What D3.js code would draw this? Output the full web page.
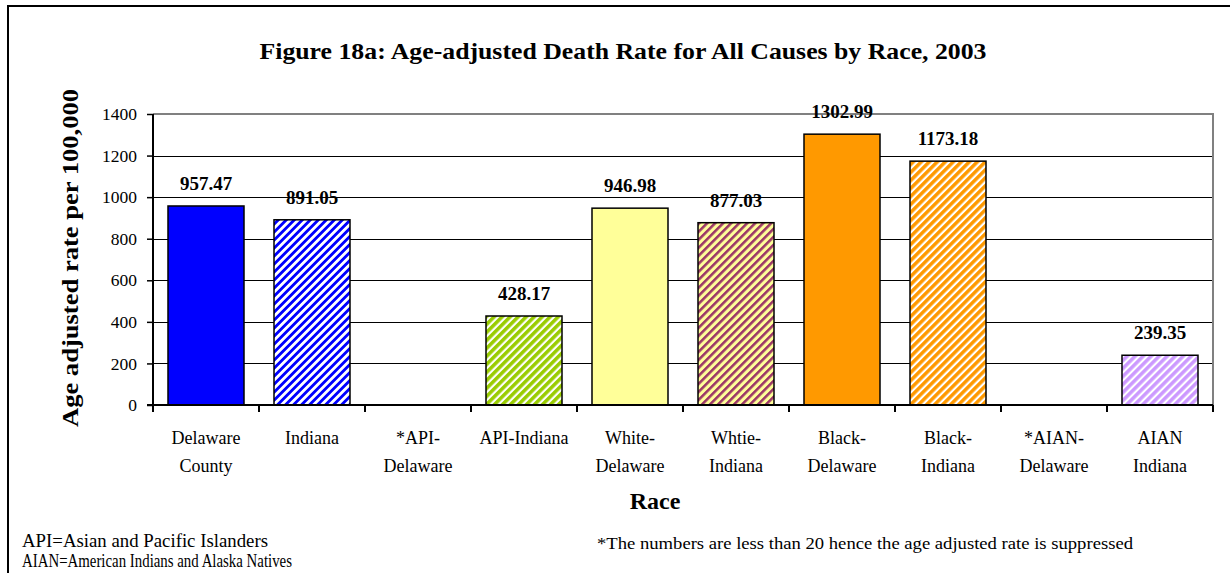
<!DOCTYPE html>
<html><head><meta charset="utf-8">
<script src="https://cdn.jsdelivr.net/npm/d3@7"></script>
<style>body{margin:0;background:#fff}svg{display:block}</style>
</head><body><svg id="c" width="1230" height="573"></svg>
<script>
const categories = ["Delaware\nCounty","Indiana","*API-\nDelaware","API-Indiana","White-\nDelaware","Whtie-\nIndiana","Black-\nDelaware","Black-\nIndiana","*AIAN-\nDelaware","AIAN\nIndiana"];
const values = [957.47, 891.05, null, 428.17, 946.98, 877.03, 1302.99, 1173.18, null, 239.35];
const fillColors = ["#0000FF","#0000FF",null,"#99CC00","#FFFF99","#993366","#FF9900","#FF9900",null,"#CC99FF"];
const backColors = [null,"#FFFFFF",null,"#FFFFFF",null,"#FFFF99",null,"#FFFFFF",null,"#FFFFFF"];
const yTicks = [0,200,400,600,800,1000,1200,1400];
const title = "Figure 18a: Age-adjusted Death Rate for All Causes by Race, 2003";
const yTitle = "Age adjusted rate per 100,000";
const xTitle = "Race";
const notes = ["API=Asian and Pacific Islanders","AIAN=American Indians and Alaska Natives"];
const suppressNote = "*The numbers are less than 20 hence the age adjusted rate is suppressed";

const FONT = '"Liberation Serif", serif';
const svg = d3.select("#c");
const L=153, R=1213, T=114, B=405;
const x = d3.scaleBand().domain(d3.range(categories.length)).range([L,R]).paddingInner(0.283).paddingOuter(0.1415);
const y = d3.scaleLinear().domain([0,1400]).range([B,T]);

// outer border
svg.append("rect").attr("x",8).attr("y",6).attr("width",1240).attr("height",600).attr("fill","none").attr("stroke","#000").attr("stroke-width",2);

// patterns
const defs = svg.append("defs");
values.forEach((v,i)=>{
  if(backColors[i]){
    const p = defs.append("pattern").attr("id","p"+i).attr("patternUnits","userSpaceOnUse")
      .attr("width",5.66).attr("height",5.66).attr("patternTransform","rotate(45)");
    p.append("rect").attr("width",5.66).attr("height",5.66).attr("fill",backColors[i]);
    const frac = i===1?0.5:(i===5?0.45:0.62);
    p.append("rect").attr("x",0).attr("width",5.66*frac).attr("height",5.66).attr("fill",fillColors[i]);
  }
});

// gridlines
svg.append("g").selectAll("line").data(yTicks.filter(t=>t>0&&t<1400)).join("line")
  .attr("x1",L).attr("x2",R).attr("y1",d=>Math.round(y(d))+0.5).attr("y2",d=>Math.round(y(d))+0.5)
  .attr("stroke","#000").attr("stroke-width",1);
// plot border top/right grey
svg.append("path").attr("d",`M${L},${T}H${R}V${B}`).attr("fill","none").attr("stroke","#808080").attr("stroke-width",2);

// bars
svg.append("g").selectAll("rect").data(values.map((v,i)=>({v,i})).filter(d=>d.v!=null)).join("rect")
  .attr("x",d=>x(d.i)).attr("width",x.bandwidth())
  .attr("y",d=>y(d.v)).attr("height",d=>B-y(d.v))
  .attr("fill",d=>backColors[d.i]?`url(#p${d.i})`:fillColors[d.i])
  .attr("stroke","#000").attr("stroke-width",1.5);

// value labels
svg.append("g").selectAll("text").data(values.map((v,i)=>({v,i})).filter(d=>d.v!=null)).join("text")
  .attr("x",d=>x(d.i)+x.bandwidth()/2).attr("y",d=>y(d.v)-16)
  .attr("text-anchor","middle").style("font-family",FONT).style("font-weight","bold").style("font-size","19px")
  .text(d=>d.v.toFixed(2));

// y axis
const ya = svg.append("g").attr("transform",`translate(${L},0)`)
  .call(d3.axisLeft(y).tickValues(yTicks).tickSize(6).tickPadding(10).tickFormat(d3.format("d")));
ya.select(".domain").attr("stroke","#000").attr("stroke-width",2).attr("d",`M0,${T}V${B}`);
ya.selectAll(".tick line").attr("stroke","#000").attr("stroke-width",1.5);
ya.selectAll(".tick text").style("font-family",FONT).style("font-size","17.5px").attr("fill","#000");

// x axis
const boundaries = d3.range(categories.length+1).map(i=>L+i*x.step());
const xg = svg.append("g");
xg.append("line").attr("x1",L-6).attr("x2",R).attr("y1",B).attr("y2",B).attr("stroke","#000").attr("stroke-width",2);
xg.selectAll("line.t").data(boundaries).join("line").attr("class","t")
  .attr("x1",d=>d).attr("x2",d=>d).attr("y1",B).attr("y2",B+7).attr("stroke","#000").attr("stroke-width",2);
const xl = svg.append("g").selectAll("text").data(categories.map((c,i)=>({c,i}))).join("text")
  .attr("text-anchor","middle").style("font-family",FONT).style("font-size","18px")
  .attr("transform",d=>`translate(${x(d.i)+x.bandwidth()/2},444)`);
xl.selectAll("tspan").data(d=>d.c.split("\n")).join("tspan").attr("x",0).attr("dy",(d,k)=>k?28:0).text(d=>d);

// titles
function txt(){ return svg.append("text").style("font-family",FONT); }
txt().attr("x",623).attr("y",59).attr("text-anchor","middle").style("font-weight","bold").style("font-size","23px")
  .attr("textLength",727).attr("lengthAdjust","spacingAndGlyphs").text(title);
txt().attr("transform","translate(78,258) rotate(-90)").attr("text-anchor","middle").style("font-weight","bold").style("font-size","24px")
  .attr("textLength",338).attr("lengthAdjust","spacingAndGlyphs").text(yTitle);
txt().attr("x",655).attr("y",509).attr("text-anchor","middle").style("font-weight","bold").style("font-size","24px").text(xTitle);
txt().attr("x",22).attr("y",547).style("font-size","18px").attr("textLength",246).attr("lengthAdjust","spacingAndGlyphs").text(notes[0]);
txt().attr("x",22).attr("y",567).style("font-size","18px").attr("textLength",270).attr("lengthAdjust","spacingAndGlyphs").text(notes[1]);
txt().attr("x",597).attr("y",549).style("font-size","16px").attr("textLength",536).attr("lengthAdjust","spacingAndGlyphs").text(suppressNote);
</script></body></html>
